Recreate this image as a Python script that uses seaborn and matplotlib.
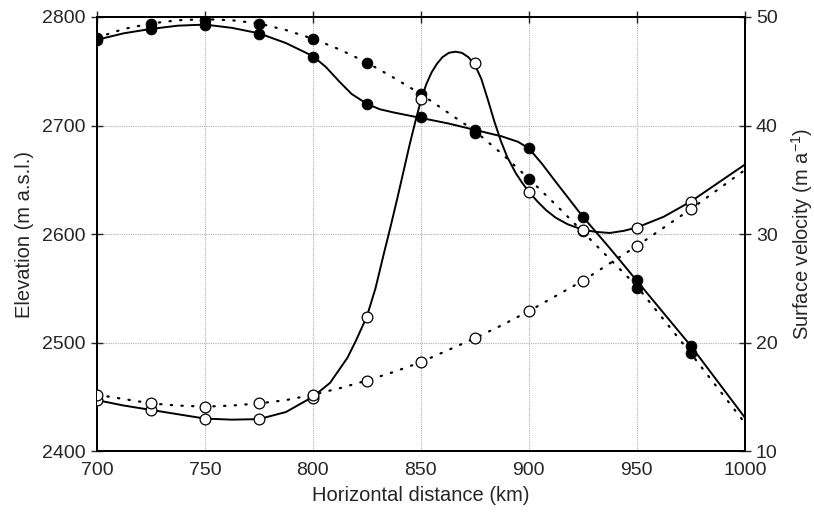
import numpy as np
import pandas as pd
import matplotlib
matplotlib.use("Agg")
import matplotlib.pyplot as plt
import seaborn as sns

# measured points (km)
dist = [700, 725, 750, 775, 800, 825, 850, 875, 900, 925, 950, 975]
elev_a = [2779, 2789, 2793, 2784, 2763, 2720, 2708, 2696, 2679, 2616, 2558, 2497]
elev_b = [2781, 2794, 2797, 2794, 2780, 2758, 2729, 2693, 2651, 2603, 2550, 2490]
vel_a = [14.7, 13.8, 13.0, 12.95, 14.9, 22.4, 42.4, 45.8, 33.9, 30.4, 30.6, 33.0]
vel_b = [15.2, 14.4, 14.1, 14.4, 15.2, 16.5, 18.2, 20.4, 22.9, 25.7, 28.9, 32.3]

# curves
curve_x = [700, 712.5, 725, 737.5, 750, 762.5, 775, 787.5, 800, 812.5, 825, 837.5,
           850, 862.5, 875, 887.5, 900, 912.5, 925, 937.5, 950, 962.5, 975, 987.5, 1000]
elev_b_curve = [2781, 2789, 2794, 2797, 2798, 2797, 2794, 2788, 2780, 2770, 2758, 2744,
                2729, 2712, 2695, 2674, 2651, 2627, 2602, 2577, 2552, 2521, 2490, 2458, 2426]
vel_b_curve = [15.2, 14.8, 14.4, 14.2, 14.1, 14.2, 14.4, 14.7, 15.2, 15.8, 16.5, 17.3,
               18.2, 19.3, 20.4, 21.6, 22.9, 24.3, 25.7, 27.3, 28.9, 30.6, 32.3, 34.1, 35.9]
elev_a_x = [700, 712.5, 725, 737.5, 750, 762.5, 775, 787.5, 800, 806, 812.5, 818, 825,
            831, 837.5, 850, 862.5, 875, 887.5, 895, 900, 906, 912.5, 925, 937.5, 950,
            962.5, 975, 987.5, 1000]
elev_a_curve = [2779, 2785, 2789, 2792, 2793, 2790, 2785, 2776, 2764, 2754, 2740, 2729, 2720,
                2715, 2712, 2707, 2702, 2696, 2690, 2685, 2679, 2665, 2648, 2616, 2587, 2557,
                2527, 2497, 2464, 2431]
vel_a_x = [700, 712.5, 725, 737.5, 750, 762.5, 775, 787.5, 800, 808, 816, 820, 825, 829,
           833, 836, 839, 842, 845, 847.5, 850, 852.5, 855, 857.5, 860, 863, 866, 869,
           872, 875, 878, 881, 884, 887, 890, 894, 897, 900, 904, 908, 912.5, 918, 925,
           931, 937.5, 944, 950, 962.5, 975, 987.5, 1000]
vel_a_curve = [14.7, 14.2, 13.8, 13.4, 13.0, 12.9, 12.95, 13.6, 15.0, 16.3, 18.6, 20.2, 22.4,
               25.0, 28.3, 30.7, 33.2, 35.8, 38.4, 40.4, 42.3, 43.8, 44.9, 45.7, 46.3, 46.7,
               46.8, 46.7, 46.3, 45.6, 44.3, 42.4, 40.4, 38.6, 37.1, 35.6, 34.7, 33.9, 33.0,
               32.2, 31.5, 30.9, 30.4, 30.2, 30.1, 30.3, 30.6, 31.6, 33.0, 34.7, 36.4]

sns.set_style("white")
plt.rcParams['font.family'] = ['Liberation Sans', 'DejaVu Sans']
plt.rcParams['mathtext.fontset'] = 'custom'
plt.rcParams['mathtext.rm'] = 'Liberation Sans'
plt.rcParams['mathtext.it'] = 'Liberation Sans'

fig = plt.figure(figsize=(8.14, 5.15), dpi=100)
ax = fig.add_axes([0.119, 0.124, 0.796, 0.843])
ax2 = ax.twinx()

dotted = (0, (0.6, 4.2))

# elevation
sns.lineplot(x=elev_a_x, y=elev_a_curve, ax=ax, color='black', lw=1.4, sort=False, estimator=None)
sns.lineplot(x=curve_x, y=elev_b_curve, ax=ax, color='black', lw=1.6, sort=False,
             estimator=None, linestyle=dotted, dash_capstyle='round')
sns.scatterplot(x=dist, y=elev_a, ax=ax, color='black', s=60, edgecolor='black', zorder=3)
sns.scatterplot(x=dist, y=elev_b, ax=ax, color='black', s=60, edgecolor='black', zorder=3)

# velocity
sns.lineplot(x=vel_a_x, y=vel_a_curve, ax=ax2, color='black', lw=1.4, sort=False, estimator=None)
sns.lineplot(x=curve_x, y=vel_b_curve, ax=ax2, color='black', lw=1.6, sort=False,
             estimator=None, linestyle=dotted, dash_capstyle='round')
sns.scatterplot(x=dist, y=vel_a, ax=ax2, color='white', s=60, edgecolor='black', linewidth=0.9, zorder=3)
sns.scatterplot(x=dist, y=vel_b, ax=ax2, color='white', s=60, edgecolor='black', linewidth=0.9, zorder=3)

ax.set_xlim(700, 1000)
ax.set_ylim(2400, 2800)
ax2.set_ylim(10, 50)
ax.set_xticks(np.arange(700, 1001, 50))
ax.set_yticks(np.arange(2400, 2801, 100))
ax2.set_yticks(np.arange(10, 51, 10))

ax.grid(True, color='#b0b0b0', linestyle=(0, (1, 1)), linewidth=0.8)
ax2.grid(False)
ax.set_axisbelow(True)

for a in (ax, ax2):
    for sp in a.spines.values():
        sp.set_linewidth(1.4)
        sp.set_color('black')
ax.tick_params(axis='both', direction='inout', length=8, width=1, labelsize=14, top=True, pad=4)
ax2.tick_params(axis='y', direction='inout', length=8, width=1, labelsize=14, pad=4)

ax.set_xlabel('Horizontal distance (km)', fontsize=14.5, labelpad=5)
ax.set_ylabel('Elevation (m a.s.l.)', fontsize=14.5, labelpad=6)
ax2.set_ylabel('Surface velocity (m a$^{-1}$)', fontsize=14.5, labelpad=8)

fig.savefig('out.png', dpi=100)
